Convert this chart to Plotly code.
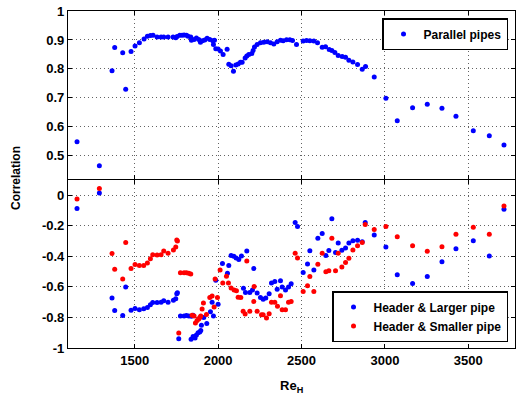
import plotly.graph_objects as go

# Parallel pipes (top panel)
par_x = [1154, 1288, 1364, 1380, 1428, 1446, 1478, 1502, 1528, 1556, 1576, 1594, 1610, 1634, 1658,
         1674, 1700, 1730, 1746, 1754, 1770, 1784, 1796, 1810, 1820, 1836, 1840, 1856, 1870, 1884,
         1894, 1906, 1920, 1934, 1950, 1968, 1972, 1978, 1986, 2000, 2014, 2030, 2054, 2064, 2078,
         2092, 2106, 2120, 2134, 2144, 2162, 2172, 2184, 2202, 2210, 2218, 2234, 2254, 2274, 2294,
         2314, 2334, 2354, 2374, 2390, 2410, 2430, 2446, 2470, 2510, 2530, 2550, 2574, 2596, 2624,
         2644, 2666, 2682, 2700, 2720, 2744, 2764, 2784, 2808, 2836, 2864, 2884, 2936, 3006, 3074,
         3166, 3254, 3342, 3426, 3530, 3626, 3714]
par_y = [0.549, 0.466, 0.794, 0.874, 0.856, 0.730, 0.860, 0.879, 0.890, 0.903, 0.913, 0.915, 0.916, 0.910, 0.910,
         0.910, 0.910, 0.910, 0.908, 0.912, 0.916, 0.916, 0.917, 0.916, 0.913, 0.910, 0.899, 0.902, 0.907, 0.902,
         0.892, 0.897, 0.900, 0.906, 0.902, 0.897, 0.884, 0.899, 0.870, 0.869, 0.862, 0.850, 0.868, 0.816, 0.811,
         0.792, 0.814, 0.817, 0.823, 0.823, 0.838, 0.845, 0.850, 0.853, 0.864, 0.876, 0.884, 0.890, 0.892, 0.894,
         0.890, 0.886, 0.894, 0.899, 0.897, 0.901, 0.901, 0.898, 0.884, 0.896, 0.898, 0.897, 0.896, 0.890, 0.875,
         0.877, 0.867, 0.864, 0.857, 0.846, 0.843, 0.840, 0.830, 0.824, 0.815, 0.799, 0.808, 0.772, 0.699, 0.621,
         0.666, 0.678, 0.664, 0.637, 0.587, 0.569, 0.537]

# Header & Larger pipe (bottom panel, blue)
lg_x = [1154, 1288, 1364, 1380, 1428, 1446, 1478, 1502, 1528, 1554, 1576, 1594, 1608, 1634, 1658, 1674,
        1700, 1732, 1746, 1752, 1756, 1764, 1774, 1796, 1810, 1824, 1840, 1850, 1838, 1850, 1862, 1870,
        1880, 1890, 1896, 1900, 1914, 1932, 1954, 1964, 1972, 1986, 2000, 2026, 2056, 2064, 2078, 2094,
        2108, 2124, 2140, 2152, 2164, 2172, 2190, 2206, 2214, 2234, 2254, 2270, 2286, 2306, 2320, 2340,
        2354, 2374, 2384, 2404, 2422, 2438, 2462, 2476, 2510, 2536, 2550, 2574, 2598, 2624, 2646, 2664,
        2682, 2704, 2720, 2742, 2764, 2784, 2808, 2836, 2864, 2882, 2936, 3006, 3074, 3166, 3254, 3342,
        3426, 3530, 3626, 3714]
lg_y = [-0.087, 0.015, -0.673, -0.755, -0.788, -0.600, -0.753, -0.741, -0.750, -0.743, -0.735, -0.717, -0.702, -0.702, -0.700, -0.690,
        -0.700, -0.688, -0.678, -0.645, -0.638, -0.940, -0.790, -0.790, -0.787, -0.790, -0.792, -0.785, -0.943, -0.925, -0.935, -0.915,
        -0.900, -0.895, -0.885, -0.851, -0.800, -0.840, -0.763, -0.700, -0.790, -0.556, -0.714, -0.447, -0.510, -0.460, -0.395, -0.400,
        -0.410, -0.420, -0.397, -0.608, -0.636, -0.365, -0.636, -0.620, -0.480, -0.640, -0.670, -0.680, -0.673, -0.645, -0.575, -0.565,
        -0.615, -0.560, -0.600, -0.620, -0.600, -0.580, -0.178, -0.204, -0.506, -0.450, -0.363, -0.490, -0.282, -0.250, -0.394, -0.362,
        -0.154, -0.374, -0.313, -0.360, -0.345, -0.313, -0.298, -0.295, -0.304, -0.178, -0.260, -0.339, -0.521, -0.578, -0.532, -0.436,
        -0.350, -0.298, -0.397, -0.091]

# Header & Smaller pipe (bottom panel, red)
sm_x = [1154, 1288, 1364, 1380, 1428, 1446, 1478, 1502, 1528, 1554, 1576, 1594, 1608, 1634, 1658, 1674,
        1700, 1732, 1746, 1752, 1756, 1764, 1774, 1796, 1810, 1824, 1836, 1844, 1856, 1864, 1874, 1884,
        1890, 1896, 1904, 1912, 1930, 1950, 1964, 1976, 1982, 1996, 2012, 2028, 2050, 2062, 2078, 2096,
        2110, 2120, 2136, 2150, 2162, 2172, 2190, 2214, 2216, 2234, 2260, 2270, 2290, 2306, 2320, 2340,
        2356, 2374, 2384, 2404, 2422, 2438, 2462, 2476, 2510, 2536, 2550, 2574, 2598, 2624, 2646, 2664,
        2682, 2704, 2720, 2742, 2764, 2784, 2808, 2836, 2864, 2882, 2936, 3006, 3074, 3166, 3254, 3342,
        3426, 3530, 3626, 3714]
sm_y = [-0.024, 0.044, -0.382, -0.484, -0.549, -0.310, -0.480, -0.454, -0.460, -0.460, -0.443, -0.415, -0.389, -0.391, -0.389, -0.365,
        -0.380, -0.358, -0.338, -0.293, -0.300, -0.901, -0.508, -0.508, -0.508, -0.510, -0.516, -0.786, -0.790, -0.836, -0.820, -0.810,
        -0.800, -0.790, -0.745, -0.706, -0.780, -0.669, -0.660, -0.732, -0.549, -0.669, -0.490, -0.575, -0.530, -0.575, -0.607, -0.620,
        -0.625, -0.668, -0.670, -0.760, -0.777, -0.430, -0.760, -0.695, -0.597, -0.760, -0.782, -0.782, -0.803, -0.775, -0.700, -0.700,
        -0.726, -0.658, -0.750, -0.750, -0.700, -0.695, -0.380, -0.410, -0.630, -0.593, -0.532, -0.630, -0.452, -0.380, -0.500, -0.495,
        -0.282, -0.495, -0.380, -0.469, -0.440, -0.413, -0.358, -0.330, -0.309, -0.191, -0.224, -0.204, -0.271, -0.330, -0.367, -0.337,
        -0.256, -0.210, -0.256, -0.070]

x_ticks = [1500, 2000, 2500, 3000, 3500]
top_ticks = [0.5, 0.6, 0.7, 0.8, 0.9, 1.0]
top_labels = ["0.5", "0.6", "0.7", "0.8", "0.9", "1"]
bot_ticks = [-1.0, -0.8, -0.6, -0.4, -0.2, 0.0]
bot_labels = ["-1", "-0.8", "-0.6", "-0.4", "-0.2", "0"]

FONT = "Liberation Sans, Arial, sans-serif"

# Figure fills the whole window; the page body's default margin is removed below.
W, H = 517, 398
PX0, PX1, PY0, PY1 = 68, 515, 11, 348   # plot area in window pixels
L, R, T, B = PX0, W - PX1, PY0, H - PY1
ph = H - T - B
pw = W - L - R


def px_x(vx):
    return (vx - PX0) / pw


def px_y(vy):
    return (PY1 - vy) / ph


fig = go.Figure()
fig.add_trace(go.Scatter(x=par_x, y=par_y, mode="markers", name="Parallel pipes",
                         marker=dict(color="#0000ff", size=5), xaxis="x2", yaxis="y2",
                         legend="legend", showlegend=True))
fig.add_trace(go.Scatter(x=lg_x, y=lg_y, mode="markers", name="Header & Larger pipe",
                         marker=dict(color="#0000ff", size=5), xaxis="x", yaxis="y",
                         legend="legend2", showlegend=True))
fig.add_trace(go.Scatter(x=sm_x, y=sm_y, mode="markers", name="Header & Smaller pipe",
                         marker=dict(color="#ff0000", size=5), xaxis="x", yaxis="y",
                         legend="legend2", showlegend=True))

axis_common = dict(showline=True, linecolor="black", linewidth=1.2, mirror="ticks",
                   ticks="inside", ticklen=4, tickcolor="black", automargin=False,
                   showgrid=True, gridcolor="rgba(60,60,60,0.8)", griddash="1px,3px", gridwidth=1,
                   zeroline=False, ticklabeloverflow="allow",
                   tickfont=dict(family=FONT, size=13, color="black", weight="bold"))

bot_dom = [0, 168 / ph]
top_dom = [169 / ph, 1]

legend_font = dict(family=FONT, size=12, color="black", weight="bold")

fig.update_layout(
    template="none",
    showlegend=True,
    width=W, height=H,
    margin=dict(l=L, r=R, t=T, b=B, autoexpand=False),
    paper_bgcolor="white", plot_bgcolor="white",
    font=dict(family=FONT, color="black"),
    xaxis=dict(range=[1100, 3780], tickvals=x_ticks, ticktext=[str(v) for v in x_ticks],
               anchor="y", **axis_common),
    xaxis2=dict(range=[1100, 3780], tickvals=x_ticks, showticklabels=False,
                anchor="y2", matches="x", **axis_common),
    yaxis=dict(range=[-1, 0.1], domain=bot_dom, tickvals=bot_ticks, ticktext=bot_labels,
               anchor="x", **axis_common),
    yaxis2=dict(range=[0.42, 1], domain=top_dom, tickvals=top_ticks, ticktext=top_labels,
                anchor="x2", **axis_common),
    legend=dict(x=px_x(508), y=px_y(18), xanchor="right", yanchor="top",
                bgcolor="white", bordercolor="black", borderwidth=1.5,
                font=legend_font, itemwidth=30, tracegroupgap=0),
    legend2=dict(x=px_x(508), y=px_y(342), xanchor="right", yanchor="bottom",
                 bgcolor="white", bordercolor="black", borderwidth=1.5,
                 font=legend_font, itemwidth=30, tracegroupgap=0),
    annotations=[
        dict(text="Correlation", xref="paper", yref="paper", x=px_x(16),
             y=px_y(178), textangle=-90, showarrow=False, xanchor="center",
             yanchor="middle", font=dict(family=FONT, size=12, color="black", weight="bold")),
        dict(text="Re<sub>H</sub>", xref="paper", yref="paper", x=px_x(291),
             y=px_y(376), showarrow=False, xanchor="center", yanchor="top",
             font=dict(family=FONT, size=13, color="black", weight="bold")),
    ],
)

fig.write_html("out.html",
               config={"displayModeBar": False},
               post_script="document.body.style.margin='0';document.body.style.overflow='hidden';")
